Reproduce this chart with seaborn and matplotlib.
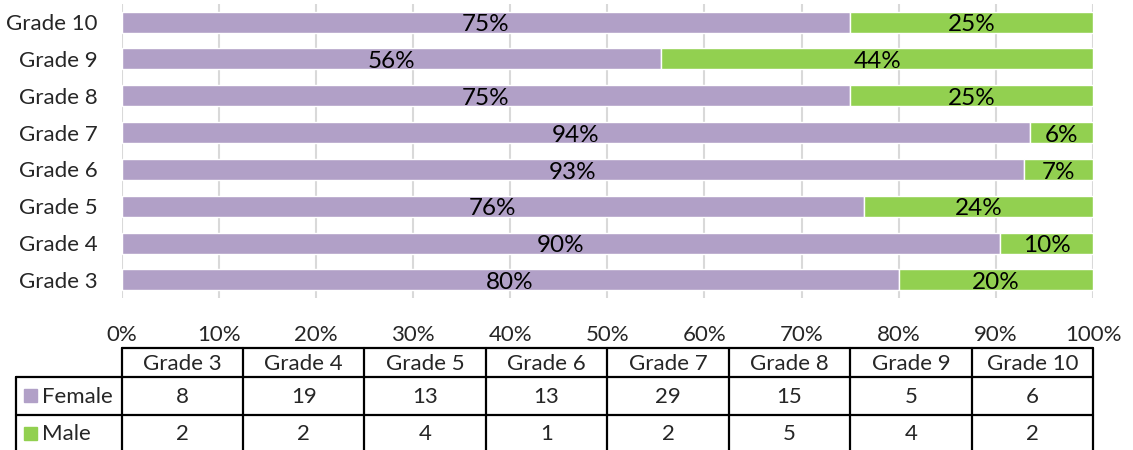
import matplotlib
matplotlib.use("Agg")
import matplotlib.pyplot as plt
import seaborn as sns
import pandas as pd
import numpy as np

grades = ["Grade 3", "Grade 4", "Grade 5", "Grade 6", "Grade 7", "Grade 8", "Grade 9", "Grade 10"]
female = [8, 19, 13, 13, 29, 15, 5, 6]
male = [2, 2, 4, 1, 2, 5, 4, 2]
x_ticks = [0, 10, 20, 30, 40, 50, 60, 70, 80, 90, 100]

PURPLE = "#B1A0C7"
GREEN = "#92D050"

sns.set_theme(style="white")
FONT = ["Lato", "DejaVu Sans"]
plt.rcParams["font.family"] = FONT

df = pd.DataFrame({"grade": grades, "female": female, "male": male})
df["total"] = df["female"] + df["male"]
df["fpct"] = df["female"] / df["total"] * 100
df["mpct"] = df["male"] / df["total"] * 100

W, H = 1133, 450
fig = plt.figure(figsize=(W / 100, H / 100), dpi=100)
L, R, T, B = 121.5, 1093, 3.6, 298.4
ax = fig.add_axes([L / W, 1 - B / H, (R - L) / W, (B - T) / H])

order = grades[::-1]
sns.barplot(data=df, x="fpct", y="grade", order=order, orient="h", color=PURPLE,
            width=0.57, saturation=1, ax=ax, zorder=3)
ypos = [order.index(g) for g in grades]
ax.barh(ypos, df["mpct"], left=df["fpct"], height=0.57, color=GREEN, zorder=3)

fs = 17.5
for cont, vals in zip(ax.containers, [df.set_index("grade").loc[order, "fpct"].values, df["mpct"].values]):
    labels = [f"{v:.0f}%" for v in vals]
    for rect, lab in zip(cont, labels):
        cx = rect.get_x() + rect.get_width() / 2
        cy = rect.get_y() + rect.get_height() / 2
        ax.text(cx, cy + 0.07, lab, ha="center", va="center", fontsize=fs, color="black", zorder=4)

ax.set_xlim(0, 100)
ax.set_ylim(7.5, -0.5)
ax.set_xticks(x_ticks)
ax.set_xticklabels([f"{t}%" for t in x_ticks])
ax.grid(axis="x", color="#D9D9D9", linewidth=1.5, zorder=0)
ax.grid(axis="y", visible=False)
for s in ax.spines.values():
    s.set_visible(False)
ax.set_xlabel("")
ax.set_ylabel("")
ax.tick_params(axis="x", length=0, pad=19, labelsize=16)
ax.tick_params(axis="y", length=0, pad=17, labelsize=16)

# data table
tax = fig.add_axes([0, 0, 1, 1])
tax.set_xlim(0, W)
tax.set_ylim(H, 0)
tax.axis("off")
edges = np.linspace(L, R, len(grades) + 1)
y0, y1, y2, y3 = 348, 377, 415, 452
lw = 1.6
tax.plot([L, R], [y0, y0], color="black", lw=lw)
for yy in (y1, y2):
    tax.plot([16, R], [yy, yy], color="black", lw=lw)
tax.plot([16, 16], [y1, y3], color="black", lw=lw)
for e in edges:
    tax.plot([e, e], [y0, y3], color="black", lw=lw)
tfs = 16
for i, g in enumerate(grades):
    cx = (edges[i] + edges[i + 1]) / 2
    tax.text(cx, (y0 + y1) / 2 + 1, g, ha="center", va="center", fontsize=tfs)
    tax.text(cx, (y1 + y2) / 2 + 1, str(female[i]), ha="center", va="center", fontsize=tfs)
    tax.text(cx, (y2 + y3) / 2, str(male[i]), ha="center", va="center", fontsize=tfs)
for (ya, yb), name, col in [((y1, y2), "Female", PURPLE), ((y2, y3), "Male", GREEN)]:
    cy = (ya + yb) / 2
    tax.add_patch(plt.Rectangle((24, cy - 7), 13, 13, color=col))
    tax.text(42, cy + 1, name, ha="left", va="center", fontsize=tfs)

fig.savefig("out.png", dpi=100)
